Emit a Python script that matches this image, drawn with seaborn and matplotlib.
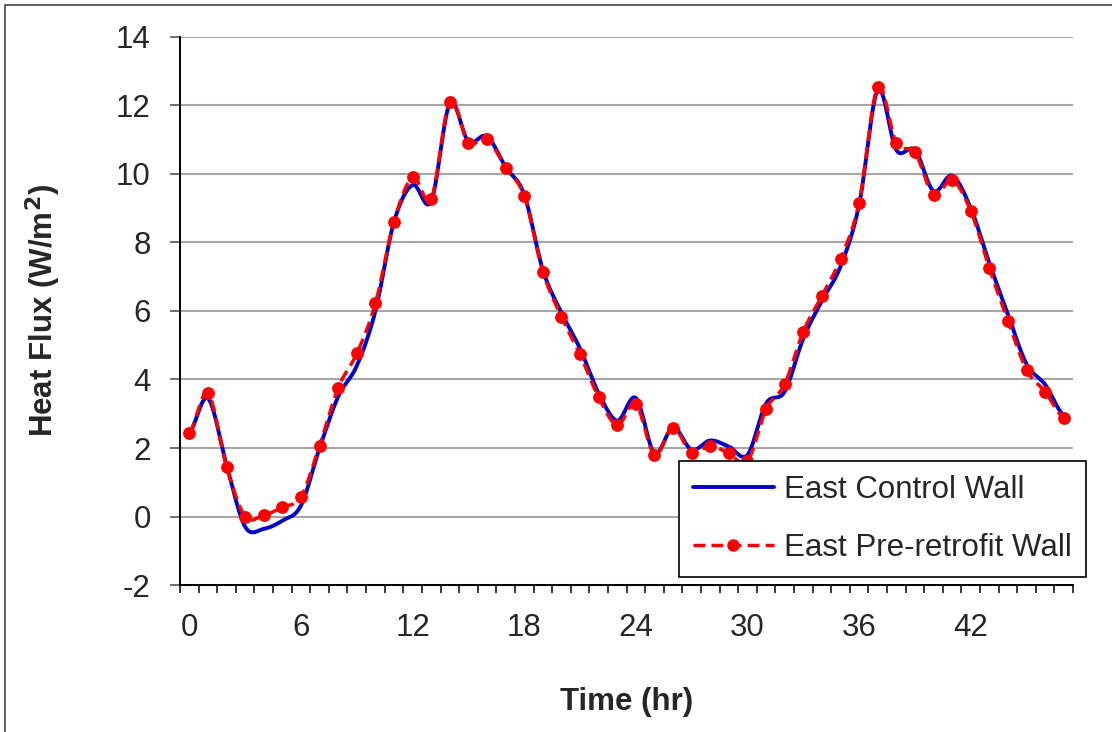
import numpy as np
import pandas as pd
import matplotlib
matplotlib.use("Agg")
import matplotlib.pyplot as plt
from matplotlib.lines import Line2D
from matplotlib.patches import Rectangle
import seaborn as sns

# Hourly heat flux readings (W/m²), hours 0..47
hours = list(range(48))
control_wall = [2.44, 3.45, 1.50, -0.30, -0.36, -0.12, 0.32, 2.00, 3.50, 4.40,
                6.00, 8.60, 9.68, 9.20, 12.05, 10.95, 11.10, 10.20, 9.40, 7.20,
                5.95, 4.90, 3.60, 2.80, 3.46, 1.85, 2.60, 1.95, 2.22, 2.04,
                1.80, 3.30, 3.65, 5.20, 6.30, 7.30, 9.10, 12.45, 10.70, 10.70,
                9.50, 9.95, 9.00, 7.40, 5.90, 4.45, 3.85, 2.95]
pre_retrofit_wall = [2.44, 3.60, 1.45, 0.00, 0.04, 0.27, 0.58, 2.07, 3.76, 4.76,
                     6.22, 8.60, 9.90, 9.28, 12.11, 10.91, 11.03, 10.18, 9.36, 7.15,
                     5.83, 4.73, 3.48, 2.67, 3.28, 1.80, 2.59, 1.84, 2.07, 1.84,
                     1.62, 3.13, 3.87, 5.40, 6.44, 7.52, 9.16, 12.53, 10.90, 10.63,
                     9.39, 9.82, 8.92, 7.25, 5.71, 4.28, 3.64, 2.87]
x_tick_labels = ["0", "6", "12", "18", "24", "30", "36", "42"]
y_ticks = [-2, 0, 2, 4, 6, 8, 10, 12, 14]


def smooth_curve(x, y, steps=24):
    """Catmull-Rom curve through every point, like a spreadsheet 'smoothed line'."""
    x = np.asarray(x, float)
    y = np.asarray(y, float)
    xp = np.concatenate([[2 * x[0] - x[1]], x, [2 * x[-1] - x[-2]]])
    yp = np.concatenate([[y[0]], y, [y[-1]]])
    xs, ys = [], []
    t = np.linspace(0, 1, steps, endpoint=False)
    for i in range(1, len(xp) - 2):
        for arr, out in ((xp, xs), (yp, ys)):
            p0, p1, p2, p3 = arr[i - 1], arr[i], arr[i + 1], arr[i + 2]
            out.extend(0.5 * ((2 * p1) + (-p0 + p2) * t
                              + (2 * p0 - 5 * p1 + 4 * p2 - p3) * t ** 2
                              + (-p0 + 3 * p1 - 3 * p2 + p3) * t ** 3))
    xs.append(x[-1])
    ys.append(y[-1])
    return np.array(xs), np.array(ys)


sns.set_style("white")
plt.rcParams["font.family"] = ["Liberation Sans", "DejaVu Sans"]
FS = 22.5

fig = plt.figure(figsize=(11.12, 7.32), dpi=100)
ax = fig.add_axes([0.1619, 0.2008, 0.8031, 0.7487])

blue = "#0000CC"
red = "#FF0000"

cx, cy = smooth_curve(hours, control_wall)
px, py = smooth_curve(hours, pre_retrofit_wall)
curves = pd.DataFrame({"hour": cx, "flux": cy})
curves_pre = pd.DataFrame({"hour": px, "flux": py})
points_pre = pd.DataFrame({"hour": hours, "flux": pre_retrofit_wall})

sns.lineplot(data=curves, x="hour", y="flux", ax=ax, color=blue, lw=2.8,
             sort=False, estimator=None, zorder=3)
sns.lineplot(data=curves_pre, x="hour", y="flux", ax=ax, color=red, lw=2.5,
             sort=False, estimator=None, zorder=4, dashes=False)
ax.lines[-1].set_dashes((3.4, 1.8))
sns.scatterplot(data=points_pre, x="hour", y="flux", ax=ax, color=red, s=85,
                edgecolor=red, linewidth=0, zorder=5)

ax.set_xlim(-0.5, 47.5)
ax.set_ylim(-2, 14)
ax.set_yticks(y_ticks)
ax.set_yticklabels([str(v) for v in y_ticks])
ax.set_xticks(np.arange(0, 48, 6))
ax.set_xticklabels(x_tick_labels)
ax.set_xticks(np.arange(-0.5, 48, 1), minor=True)

ax.grid(axis="y", color="#a6a6a6", lw=1.5, zorder=0)
ax.grid(axis="x", visible=False)
for side in ("top", "right"):
    ax.spines[side].set_visible(False)
for side in ("left", "bottom"):
    ax.spines[side].set_color("black")
    ax.spines[side].set_linewidth(1.4)

ax.tick_params(axis="y", which="major", direction="out", length=7, width=1.2,
               color="#555555", labelsize=FS, pad=14, left=True)
ax.tick_params(axis="x", which="major", length=0, labelsize=FS, pad=20)
ax.tick_params(axis="x", which="minor", direction="out", length=6, width=1.1,
               color="black", bottom=True)

ax.set_xlabel("Time (hr)", fontsize=FS, fontweight="bold", labelpad=32)
ax.set_ylabel("Heat Flux (W/m$^\\mathbf{2}$)", fontsize=FS, fontweight="bold", labelpad=38)

handles = [
    Line2D([], [], color=blue, lw=2.8),
    Line2D([], [], color=red, lw=2.5, dashes=(3.4, 1.8), marker="o",
           markersize=9, markeredgewidth=0),
]
leg = fig.legend(handles, ["East Control Wall", "East Pre-retrofit Wall"],
                 loc="center", bbox_to_anchor=(0.607, 0.213, 0.373, 0.156),
                 bbox_transform=fig.transFigure, fontsize=FS, frameon=True,
                 fancybox=False, edgecolor="black", framealpha=1,
                 handlelength=2.58, handletextpad=0.32, labelspacing=0.9,
                 borderpad=0.45, borderaxespad=0)
leg.get_frame().set_linewidth(1.2)
leg.set_zorder(10)

# thin frame around the chart area
fig.patches.append(Rectangle((5 / 1112, -0.05), 1.2, 1 - 5 / 732 + 0.05,
                             transform=fig.transFigure, fill=False,
                             edgecolor="#555555", lw=1.3))

fig.savefig("out.png", dpi=100)
